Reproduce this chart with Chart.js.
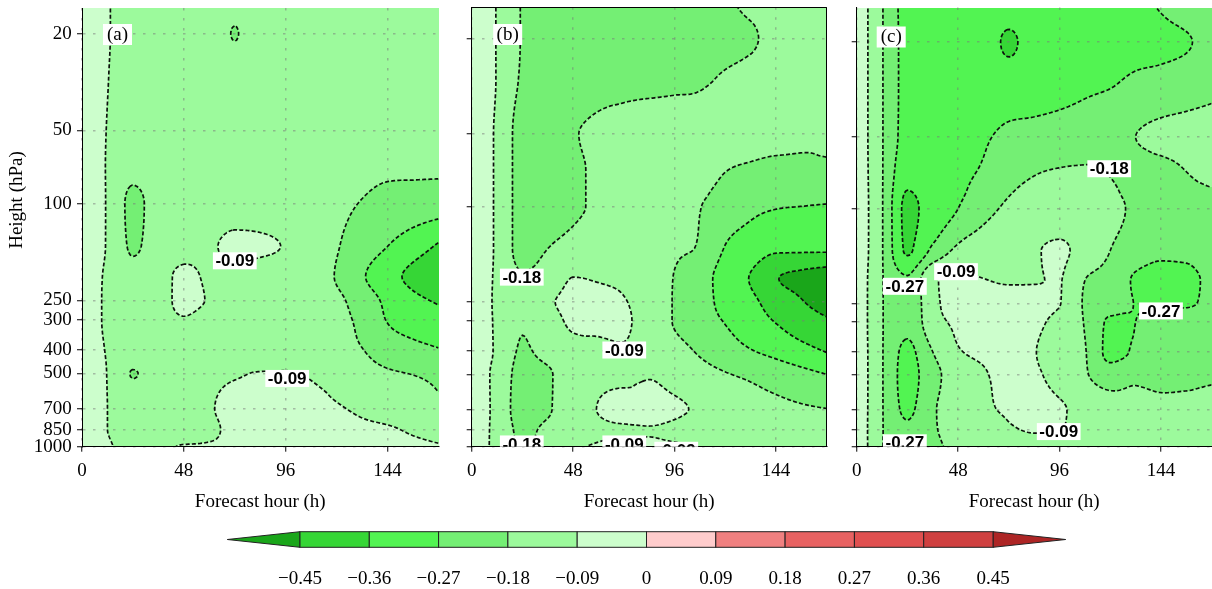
<!DOCTYPE html>
<html>
<head>
<meta charset="utf-8">
<script src="https://cdn.jsdelivr.net/npm/chart.js@4.4.1/dist/chart.umd.min.js"></script>
<style>
  html, body { margin: 0; padding: 0; background: #fff; }
  #wrap { position: relative; width: 1212px; height: 589px; overflow: hidden; background: #fff; }
  #wrap canvas { position: absolute; }
</style>
</head>
<body>
<div id="wrap">
  <canvas id="pa" width="445" height="520" style="left:0px;top:0px"></canvas>
  <canvas id="pb" width="385" height="520" style="left:448px;top:0px"></canvas>
  <canvas id="pc" width="378" height="520" style="left:834px;top:0px"></canvas>
  <canvas id="cb" width="1212" height="69" style="left:0px;top:520px"></canvas>
</div>
<script>
// Grid axes of the analysed field
const hours = [0, 12, 24, 36, 48, 60, 72, 84, 96, 108, 120, 132, 144, 156, 168];
const pressureLevels = [14, 20, 30, 50, 70, 100, 150, 200, 250, 300, 400, 500, 700, 850, 1000];

// Axis ticks
const pressureTicks = [20, 50, 100, 250, 300, 400, 500, 700, 850, 1000];
const hourTicks = [0, 48, 96, 144];

// Contour / shading levels
const contourLevels = [-0.45, -0.36, -0.27, -0.18, -0.09];
const colorbarTicks = [-0.45, -0.36, -0.27, -0.18, -0.09, 0, 0.09, 0.18, 0.27, 0.36, 0.45];
const shadeColors = ['#1aa61a', '#36d636', '#52f452', '#74ef74', '#9cfa9c', '#ccfecc',
                     '#ffcccc', '#f08080', '#e86262', '#e05050', '#cf4040', '#ad2525'];

// Panel (a): rows follow pressureLevels, columns follow hours
const panelA = [
  [-0.05, -0.085, -0.13, -0.14, -0.145, -0.15, -0.155, -0.15, -0.15, -0.15, -0.15, -0.15, -0.15, -0.15, -0.15],
  [-0.05, -0.085, -0.13, -0.14, -0.145, -0.15, -0.182, -0.15, -0.15, -0.15, -0.15, -0.15, -0.15, -0.15, -0.15],
  [-0.05, -0.088, -0.13, -0.14, -0.145, -0.15, -0.155, -0.15, -0.15, -0.15, -0.15, -0.15, -0.15, -0.155, -0.155],
  [-0.05, -0.092, -0.13, -0.14, -0.145, -0.15, -0.15, -0.15, -0.15, -0.15, -0.15, -0.15, -0.155, -0.16, -0.16],
  [-0.05, -0.094, -0.15, -0.14, -0.145, -0.145, -0.145, -0.145, -0.145, -0.15, -0.155, -0.165, -0.17, -0.17, -0.17],
  [-0.05, -0.095, -0.20, -0.15, -0.145, -0.14, -0.13, -0.13, -0.14, -0.15, -0.165, -0.183, -0.20, -0.21, -0.22],
  [-0.05, -0.095, -0.19, -0.14, -0.12, -0.10, -0.075, -0.08, -0.095, -0.14, -0.175, -0.22, -0.27, -0.32, -0.37],
  [-0.05, -0.10, -0.15, -0.12, -0.075, -0.10, -0.11, -0.12, -0.13, -0.15, -0.185, -0.26, -0.33, -0.38, -0.42],
  [-0.05, -0.10, -0.13, -0.12, -0.07, -0.095, -0.12, -0.13, -0.135, -0.15, -0.165, -0.22, -0.29, -0.34, -0.37],
  [-0.05, -0.10, -0.13, -0.12, -0.095, -0.12, -0.13, -0.135, -0.14, -0.15, -0.16, -0.20, -0.275, -0.31, -0.33],
  [-0.05, -0.095, -0.14, -0.14, -0.14, -0.14, -0.14, -0.14, -0.14, -0.15, -0.16, -0.178, -0.22, -0.245, -0.265],
  [-0.05, -0.092, -0.183, -0.15, -0.14, -0.11, -0.095, -0.088, -0.087, -0.095, -0.12, -0.15, -0.17, -0.183, -0.20],
  [-0.05, -0.09, -0.13, -0.14, -0.13, -0.095, -0.08, -0.08, -0.08, -0.08, -0.085, -0.10, -0.12, -0.14, -0.16],
  [-0.05, -0.09, -0.13, -0.13, -0.12, -0.10, -0.08, -0.075, -0.075, -0.075, -0.075, -0.08, -0.085, -0.095, -0.10],
  [-0.05, -0.08, -0.12, -0.11, -0.085, -0.085, -0.085, -0.08, -0.07, -0.07, -0.07, -0.075, -0.08, -0.085, -0.088]
];

// Panel (b)
const panelB = [
  [-0.05, -0.093, -0.185, -0.21, -0.22, -0.22, -0.22, -0.21, -0.20, -0.19, -0.185, -0.17, -0.16, -0.15, -0.15],
  [-0.05, -0.093, -0.185, -0.21, -0.22, -0.22, -0.22, -0.21, -0.20, -0.19, -0.19, -0.185, -0.165, -0.15, -0.15],
  [-0.05, -0.093, -0.19, -0.21, -0.22, -0.21, -0.20, -0.195, -0.19, -0.185, -0.175, -0.165, -0.155, -0.15, -0.15],
  [-0.05, -0.10, -0.21, -0.21, -0.185, -0.165, -0.155, -0.15, -0.15, -0.15, -0.15, -0.155, -0.16, -0.165, -0.17],
  [-0.05, -0.10, -0.21, -0.21, -0.19, -0.17, -0.15, -0.145, -0.145, -0.15, -0.177, -0.19, -0.20, -0.20, -0.19],
  [-0.05, -0.10, -0.21, -0.21, -0.19, -0.17, -0.15, -0.14, -0.16, -0.178, -0.22, -0.25, -0.265, -0.27, -0.275],
  [-0.05, -0.10, -0.21, -0.18, -0.15, -0.13, -0.13, -0.14, -0.17, -0.185, -0.275, -0.31, -0.345, -0.345, -0.345],
  [-0.05, -0.10, -0.17, -0.14, -0.088, -0.095, -0.11, -0.14, -0.183, -0.23, -0.31, -0.365, -0.445, -0.47, -0.49],
  [-0.05, -0.10, -0.15, -0.10, -0.075, -0.07, -0.085, -0.13, -0.185, -0.23, -0.30, -0.34, -0.40, -0.445, -0.48],
  [-0.05, -0.10, -0.17, -0.12, -0.08, -0.075, -0.08, -0.13, -0.185, -0.23, -0.275, -0.32, -0.365, -0.41, -0.44],
  [-0.05, -0.10, -0.19, -0.15, -0.11, -0.10, -0.095, -0.12, -0.15, -0.19, -0.23, -0.265, -0.295, -0.33, -0.365],
  [-0.05, -0.11, -0.21, -0.19, -0.13, -0.10, -0.10, -0.095, -0.12, -0.15, -0.175, -0.195, -0.22, -0.245, -0.27],
  [-0.05, -0.11, -0.22, -0.19, -0.12, -0.088, -0.07, -0.07, -0.08, -0.10, -0.13, -0.15, -0.16, -0.17, -0.178],
  [-0.05, -0.11, -0.20, -0.16, -0.12, -0.10, -0.095, -0.092, -0.10, -0.12, -0.13, -0.135, -0.14, -0.14, -0.14],
  [-0.05, -0.11, -0.19, -0.15, -0.10, -0.085, -0.08, -0.085, -0.085, -0.095, -0.12, -0.12, -0.12, -0.12, -0.12]
];

// Panel (c)
const panelC = [
  [-0.02, -0.175, -0.30, -0.31, -0.32, -0.32, -0.32, -0.31, -0.31, -0.30, -0.295, -0.285, -0.265, -0.24, -0.23],
  [-0.02, -0.175, -0.30, -0.32, -0.33, -0.33, -0.37, -0.33, -0.32, -0.31, -0.30, -0.29, -0.285, -0.275, -0.25],
  [-0.02, -0.175, -0.30, -0.32, -0.33, -0.32, -0.32, -0.31, -0.30, -0.285, -0.275, -0.255, -0.245, -0.23, -0.21],
  [-0.02, -0.175, -0.30, -0.31, -0.30, -0.28, -0.25, -0.24, -0.23, -0.22, -0.20, -0.18, -0.16, -0.15, -0.14],
  [-0.02, -0.175, -0.33, -0.31, -0.29, -0.26, -0.21, -0.185, -0.175, -0.172, -0.183, -0.20, -0.20, -0.18, -0.15],
  [-0.02, -0.175, -0.38, -0.32, -0.27, -0.21, -0.165, -0.15, -0.15, -0.15, -0.165, -0.19, -0.21, -0.22, -0.22],
  [-0.02, -0.175, -0.37, -0.25, -0.16, -0.13, -0.11, -0.095, -0.08, -0.12, -0.18, -0.22, -0.25, -0.25, -0.22],
  [-0.02, -0.175, -0.26, -0.10, -0.075, -0.088, -0.095, -0.092, -0.088, -0.18, -0.22, -0.28, -0.30, -0.29, -0.25],
  [-0.02, -0.175, -0.25, -0.11, -0.07, -0.07, -0.07, -0.075, -0.088, -0.19, -0.24, -0.272, -0.285, -0.28, -0.25],
  [-0.02, -0.175, -0.25, -0.12, -0.08, -0.07, -0.07, -0.08, -0.11, -0.185, -0.28, -0.27, -0.23, -0.22, -0.21],
  [-0.02, -0.175, -0.29, -0.18, -0.095, -0.08, -0.075, -0.088, -0.12, -0.175, -0.29, -0.26, -0.22, -0.21, -0.20],
  [-0.02, -0.175, -0.30, -0.21, -0.13, -0.095, -0.08, -0.085, -0.11, -0.17, -0.23, -0.20, -0.20, -0.195, -0.19],
  [-0.02, -0.175, -0.285, -0.19, -0.14, -0.10, -0.085, -0.08, -0.085, -0.11, -0.14, -0.15, -0.16, -0.16, -0.15],
  [-0.02, -0.175, -0.26, -0.19, -0.15, -0.12, -0.095, -0.088, -0.088, -0.12, -0.14, -0.14, -0.14, -0.14, -0.14],
  [-0.02, -0.175, -0.275, -0.20, -0.16, -0.13, -0.11, -0.10, -0.10, -0.12, -0.13, -0.13, -0.13, -0.13, -0.13]
];

// Contour labels: [forecast hour, pressure (hPa), contour level]
const labelsA = [[72, 172, -0.09], [96.7, 524, -0.09]];
const labelsB = [[23.7, 197, -0.18], [72.2, 396, -0.09], [23.7, 974, -0.18], [72.2, 974, -0.09], [96.8, 1035, -0.09]];
const labelsC = [[22.8, 212, -0.27], [47, 184, -0.09], [119.5, 68, -0.18], [144, 269, -0.27], [95.6, 864, -0.09], [22.8, 963, -0.27]];

Chart.defaults.font.family = "'Liberation Serif', 'Times New Roman', serif";
Chart.defaults.font.size = 19;
Chart.defaults.color = '#000';

// ---- monotone cubic (Steffen) interpolation helpers ----
function steffenSlopes(xs, ys) {
  const n = xs.length, m = new Array(n), h = [], d = [];
  for (let k = 0; k < n - 1; k++) { h[k] = xs[k + 1] - xs[k]; d[k] = (ys[k + 1] - ys[k]) / h[k]; }
  for (let k = 1; k < n - 1; k++) {
    const p = (d[k - 1] * h[k] + d[k] * h[k - 1]) / (h[k - 1] + h[k]);
    m[k] = (Math.sign(d[k - 1]) + Math.sign(d[k])) * Math.min(Math.abs(d[k - 1]), Math.abs(d[k]), 0.5 * Math.abs(p)) || 0;
  }
  m[0] = d[0]; m[n - 1] = d[n - 2];
  return m;
}
function hermite(xs, ys, ms, x) {
  const n = xs.length;
  if (x <= xs[0]) return ys[0];
  if (x >= xs[n - 1]) return ys[n - 1];
  let k = 0;
  while (k < n - 2 && x > xs[k + 1]) k++;
  const h = xs[k + 1] - xs[k], t = (x - xs[k]) / h, t2 = t * t, t3 = t2 * t;
  return (2 * t3 - 3 * t2 + 1) * ys[k] + (t3 - 2 * t2 + t) * h * ms[k] +
         (-2 * t3 + 3 * t2) * ys[k + 1] + (t3 - t2) * h * ms[k + 1];
}

// Evaluate the field on every pixel of the chart area, using the chart's own scales
function buildField(chart, grid) {
  const xs = chart.scales.x, ys = chart.scales.y, ca = chart.chartArea;
  const x0 = Math.round(ca.left), y0 = Math.round(ca.top);
  const W = Math.round(ca.right) - x0, H = Math.round(ca.bottom) - y0;
  const lnP = pressureLevels.map(Math.log);
  const rowSlopes = grid.map(row => steffenSlopes(hours, row));
  const F = new Float32Array(W * H);
  const uAt = new Float64Array(H);
  for (let j = 0; j < H; j++) uAt[j] = Math.log(ys.getValueForPixel(y0 + j + 0.5));
  const col = new Array(grid.length);
  for (let i = 0; i < W; i++) {
    const h = xs.getValueForPixel(x0 + i + 0.5);
    for (let r = 0; r < grid.length; r++) col[r] = hermite(hours, grid[r], rowSlopes[r], h);
    const cm = steffenSlopes(lnP, col);
    for (let j = 0; j < H; j++) F[j * W + i] = hermite(lnP, col, cm, uAt[j]);
  }
  return { F, W, H, x0, y0 };
}

function shadeIndex(v) {
  let k = 0;
  for (const e of colorbarTicks) if (v >= e) k++;
  return k;
}
function hexToRgb(h) { return [parseInt(h.slice(1, 3), 16), parseInt(h.slice(3, 5), 16), parseInt(h.slice(5, 7), 16)]; }
const shadeRGB = shadeColors.map(hexToRgb);

// Marching squares, chained into polylines so that dashes run continuously
function traceContours(field, level, step) {
  const { F, W, H, x0, y0 } = field;
  const nx = Math.floor((W - 1) / step) + 1, ny = Math.floor((H - 1) / step) + 1;
  const v = (i, j) => F[(j * step) * W + i * step];
  const X = i => x0 + i * step + 0.5, Y = j => y0 + j * step + 0.5;
  const pos = new Map(), adj = new Map();
  const hKey = (i, j) => (j * nx + i) * 2, vKey = (i, j) => (j * nx + i) * 2 + 1;
  const point = (key, xa, ya, va, xb, yb, vb) => {
    if (!pos.has(key)) { const t = (level - va) / (vb - va); pos.set(key, [xa + (xb - xa) * t, ya + (yb - ya) * t]); }
  };
  const link = (k1, k2) => {
    if (!adj.has(k1)) adj.set(k1, []);
    if (!adj.has(k2)) adj.set(k2, []);
    adj.get(k1).push(k2); adj.get(k2).push(k1);
  };
  for (let j = 0; j < ny - 1; j++) {
    for (let i = 0; i < nx - 1; i++) {
      const va = v(i, j), vb = v(i + 1, j), vc = v(i + 1, j + 1), vd = v(i, j + 1);
      const a = va > level, b = vb > level, c = vc > level, d = vd > level;
      if (a === b && b === c && c === d) continue;
      const top = hKey(i, j), right = vKey(i + 1, j), bottom = hKey(i, j + 1), left = vKey(i, j);
      const cr = [];
      if (a !== b) { point(top, X(i), Y(j), va, X(i + 1), Y(j), vb); cr.push(top); }
      if (b !== c) { point(right, X(i + 1), Y(j), vb, X(i + 1), Y(j + 1), vc); cr.push(right); }
      if (c !== d) { point(bottom, X(i), Y(j + 1), vd, X(i + 1), Y(j + 1), vc); cr.push(bottom); }
      if (d !== a) { point(left, X(i), Y(j), va, X(i), Y(j + 1), vd); cr.push(left); }
      if (cr.length === 2) link(cr[0], cr[1]);
      else if (cr.length === 4) {
        const ctr = (va + vb + vc + vd) / 4 > level;
        if (a !== ctr) link(left, top);
        if (b !== ctr) link(top, right);
        if (c !== ctr) link(right, bottom);
        if (d !== ctr) link(bottom, left);
      }
    }
  }
  const seen = new Set(), lines = [];
  const follow = start => {
    const keys = [start]; seen.add(start);
    let cur = start;
    for (;;) {
      const next = adj.get(cur).find(k => !seen.has(k));
      if (next === undefined) break;
      seen.add(next); keys.push(next); cur = next;
    }
    const closed = keys.length > 2 && adj.get(cur).includes(start);
    lines.push({ pts: keys.map(k => pos.get(k)), closed });
  };
  for (const [k, n] of adj) if (n.length === 1 && !seen.has(k)) follow(k);
  for (const k of adj.keys()) if (!seen.has(k)) follow(k);
  return lines;
}

function fmtColorbar(v) {
  if (Math.abs(v) < 1e-9) return '0';
  return (v < 0 ? '\u2212' : '') + Math.abs(v).toFixed(2);
}

// keep the plot area exactly where the layout puts it
function noScalePadding(s) { s.paddingTop = 0; s.paddingBottom = 0; s.paddingLeft = 0; s.paddingRight = 0; }

function makePanel(id, grid, labels, cfg) {
  let field = null;
  const contourPlugin = {
    id: 'contourField' + id,
    beforeDraw(chart) {
      const ctx = chart.ctx;
      if (!field) field = buildField(chart, grid);
      const img = ctx.createImageData(field.W, field.H);
      for (let k = 0; k < field.F.length; k++) {
        const c = shadeRGB[shadeIndex(field.F[k])];
        img.data[4 * k] = c[0]; img.data[4 * k + 1] = c[1]; img.data[4 * k + 2] = c[2]; img.data[4 * k + 3] = 255;
      }
      ctx.putImageData(img, field.x0, field.y0);
    },
    afterDatasetsDraw(chart) {
      const ctx = chart.ctx, ca = chart.chartArea;
      const xs = chart.scales.x, ys = chart.scales.y;
      ctx.save();
      ctx.beginPath(); ctx.rect(ca.left, ca.top, ca.right - ca.left, ca.bottom - ca.top); ctx.clip();
      // dashed contour lines
      ctx.strokeStyle = '#0d110d'; ctx.lineWidth = 1.7; ctx.setLineDash([4, 2.2]);
      ctx.lineJoin = 'round';
      for (const lev of contourLevels) {
        for (const ln of traceContours(field, lev, 2)) {
          if (ln.pts.length < 2) continue;
          ctx.beginPath();
          ctx.moveTo(ln.pts[0][0], ln.pts[0][1]);
          for (let q = 1; q < ln.pts.length; q++) ctx.lineTo(ln.pts[q][0], ln.pts[q][1]);
          if (ln.closed) ctx.closePath();
          ctx.stroke();
        }
      }
      ctx.setLineDash([]);
      // contour labels
      ctx.font = 'bold 17px "Liberation Sans", Arial, sans-serif';
      ctx.textAlign = 'center'; ctx.textBaseline = 'middle';
      for (const [h, p, lev] of labels) {
        const x = xs.getPixelForValue(h), y = ys.getPixelForValue(p);
        const txt = lev.toFixed(2);
        const w = ctx.measureText(txt).width + 5;
        ctx.fillStyle = '#fff'; ctx.fillRect(x - w / 2, y - 8.5, w, 17);
        ctx.fillStyle = '#000'; ctx.fillText(txt, x, y + 1);
      }
      ctx.restore();
      // panel tag
      ctx.save();
      const tx = ca.left + cfg.tagDx, ty = cfg.tagY;
      ctx.fillStyle = '#fff'; ctx.fillRect(tx, ty, 29, 21);
      ctx.fillStyle = '#000'; ctx.font = "19px 'Liberation Serif', serif";
      ctx.textAlign = 'center'; ctx.textBaseline = 'middle';
      ctx.fillText(cfg.tag, tx + 14.5, ty + 11);
      if (cfg.frame) {
        ctx.strokeStyle = '#000'; ctx.lineWidth = 1;
        ctx.beginPath();
        ctx.moveTo(ca.left, Math.round(ca.top) + 0.5); ctx.lineTo(ca.right, Math.round(ca.top) + 0.5);
        ctx.moveTo(Math.round(ca.right) - 0.5, ca.top); ctx.lineTo(Math.round(ca.right) - 0.5, ca.bottom);
        ctx.stroke();
      }
      if (cfg.yTitle) {
        ctx.translate(17, 200); ctx.rotate(-Math.PI / 2);
        ctx.font = "19px 'Liberation Serif', serif";
        ctx.fillText('Height (hPa)', 0, 0);
      }
      ctx.restore();
    }
  };

  const gridStyle = { color: 'rgba(120,120,120,0.5)', lineWidth: 1.5, drawTicks: true, tickLength: 5, tickColor: '#000', tickWidth: 1 };
  const borderStyle = { display: true, color: '#000', width: 1, dash: [2.5, 7.5] };

  return new Chart(document.getElementById(id), {
    type: 'scatter',
    data: { datasets: [] },
    options: {
      responsive: false, animation: false, devicePixelRatio: 1, events: [],
      layout: { autoPadding: false, padding: { left: 0, right: cfg.padRight, top: cfg.padTop, bottom: 0 } },
      plugins: { legend: { display: false }, tooltip: { enabled: false } },
      scales: {
        x: {
          type: 'linear', position: 'bottom', min: 0, max: 168, bounds: 'data',
          afterBuildTicks: s => { s.ticks = hourTicks.map(v => ({ value: v })); },
          afterFit: s => { s.height = 520 - 446.7; noScalePadding(s); },
          ticks: { padding: 7.9, maxRotation: 0, autoSkip: false, color: '#000', font: { size: 19 } },
          grid: gridStyle, border: borderStyle,
          title: { display: true, text: 'Forecast hour (h)', color: '#000', font: { size: 19 }, padding: { top: 0, bottom: 6.6 } }
        },
        y: {
          type: 'logarithmic', position: 'left', min: cfg.topP, max: 1000, reverse: true, bounds: 'data',
          afterBuildTicks: s => { s.ticks = pressureTicks.map(v => ({ value: v })); },
          afterFit: s => { s.width = cfg.yWidth; noScalePadding(s); },
          ticks: { display: cfg.showY, padding: 5.3, autoSkip: false, color: '#000', font: { size: 19 }, callback: v => String(v) },
          grid: gridStyle, border: borderStyle
        }
      }
    },
    plugins: [contourPlugin]
  });
}

makePanel('pa', panelA, labelsA, { tag: '(a)', tagDx: 21, tagY: 24, padRight: 6.5, padTop: 8, yWidth: 82, topP: 15.7, showY: true, frame: false, yTitle: true });
makePanel('pb', panelB, labelsB, { tag: '(b)', tagDx: 21.5, tagY: 24, padRight: 6.3, padTop: 7.3, yWidth: 23.7, topP: 14.85, showY: false, frame: true, yTitle: false });
makePanel('pc', panelC, labelsC, { tag: '(c)', tagDx: 20, tagY: 26.5, padRight: 0.3, padTop: 7.5, yWidth: 22.7, topP: 14.3, showY: false, frame: false, yTitle: false });

// ---- colour bar ----
const colorbarPlugin = {
  id: 'colorbarBoxes',
  afterDatasetsDraw(chart) {
    const ctx = chart.ctx, ca = chart.chartArea, xs = chart.scales.x;
    const top = ca.top, bot = ca.bottom, mid = (top + bot) / 2;
    ctx.save();
    ctx.lineWidth = 1; ctx.strokeStyle = '#222';
    // end arrows
    const xl = xs.getPixelForValue(colorbarTicks[0]);
    const xr = xs.getPixelForValue(colorbarTicks[colorbarTicks.length - 1]);
    ctx.fillStyle = shadeColors[0];
    ctx.beginPath(); ctx.moveTo(xl, top); ctx.lineTo(ca.left, mid); ctx.lineTo(xl, bot); ctx.closePath(); ctx.fill(); ctx.stroke();
    ctx.fillStyle = shadeColors[shadeColors.length - 1];
    ctx.beginPath(); ctx.moveTo(xr, top); ctx.lineTo(ca.right, mid); ctx.lineTo(xr, bot); ctx.closePath(); ctx.fill(); ctx.stroke();
    // boxes
    for (let k = 0; k < colorbarTicks.length - 1; k++) {
      const a = xs.getPixelForValue(colorbarTicks[k]), b = xs.getPixelForValue(colorbarTicks[k + 1]);
      ctx.fillStyle = shadeColors[k + 1];
      ctx.fillRect(a, top, b - a, bot - top);
      ctx.strokeRect(a, top, b - a, bot - top);
    }
    ctx.restore();
  }
};

new Chart(document.getElementById('cb'), {
  type: 'scatter',
  data: { datasets: [] },
  options: {
    responsive: false, animation: false, devicePixelRatio: 1, events: [],
    layout: { autoPadding: false, padding: { left: 227.3, right: 146.3, top: 11.7, bottom: 0 } },
    plugins: { legend: { display: false }, tooltip: { enabled: false } },
    scales: {
      x: {
        type: 'linear', min: -0.5444, max: 0.5444, bounds: 'data',
        afterBuildTicks: s => { s.ticks = colorbarTicks.map(v => ({ value: v })); },
        afterFit: s => { s.height = 69 - 27.3; noScalePadding(s); },
        ticks: { padding: 20.3, maxRotation: 0, autoSkip: false, color: '#000', font: { size: 19 }, callback: v => fmtColorbar(v) },
        grid: { display: false, drawTicks: false }, border: { display: false }
      },
      y: { display: false, min: 0, max: 1 }
    }
  },
  plugins: [colorbarPlugin]
});
</script>
</body>
</html>
